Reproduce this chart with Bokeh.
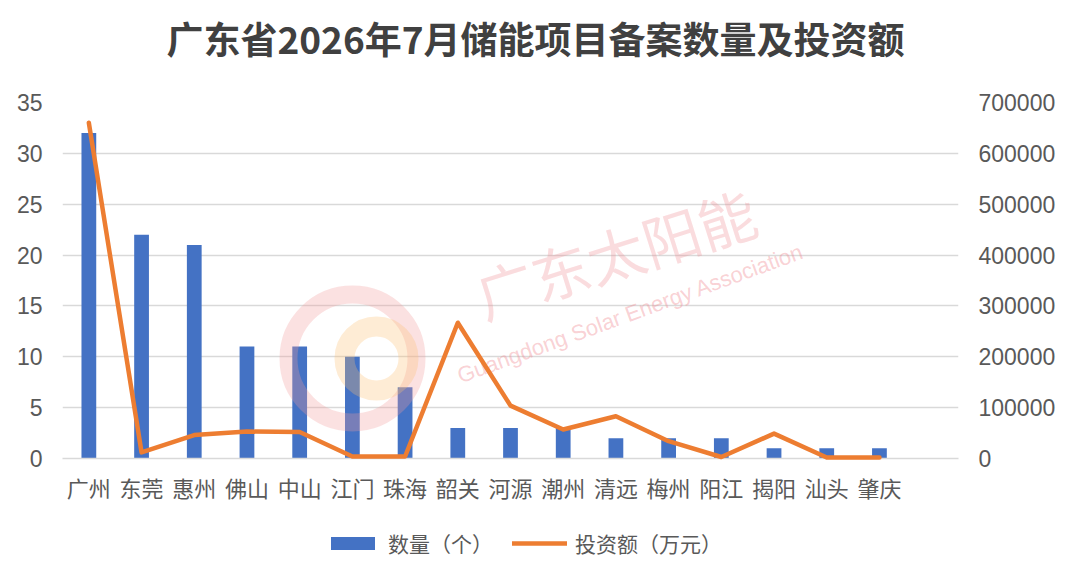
from bokeh.plotting import figure
from bokeh.layouts import column
from bokeh.models import (Range1d, LinearAxis, FixedTicker, Label, Legend, LegendItem,
                          BoxAnnotation, BasicTickFormatter)
from bokeh.embed import file_html
from bokeh.resources import INLINE

# ---- data ----
cities = ["广州", "东莞", "惠州", "佛山", "中山", "江门", "珠海", "韶关",
          "河源", "潮州", "清远", "梅州", "阳江", "揭阳", "汕头", "肇庆"]
counts = [32, 22, 21, 11, 11, 10, 7, 3, 3, 3, 2, 2, 2, 1, 1, 1]
invest = [660000, 12000, 46000, 53000, 52000, 4000, 4000, 267000,
          104000, 57000, 83000, 34000, 3000, 49000, 2000, 2000]
count_ticks = [0, 5, 10, 15, 20, 25, 30, 35]
invest_ticks = [0, 100000, 200000, 300000, 400000, 500000, 600000, 700000]
title_text = "广东省2026年7月储能项目备案数量及投资额"
legend_labels = ["数量（个）", "投资额（万元）"]

idx = list(range(len(cities)))

CJK = "Noto Sans CJK SC"
NUM = "Liberation Sans"
GRID = "#d9d9d9"
LABEL = "#595959"
BLUE = "#4472C4"
ORANGE = "#ED7D31"
W = 1062
NAN = float("nan")


def blank(h):
    f = figure(width=W, height=h, x_range=Range1d(0, 1), y_range=Range1d(0, 1),
               x_axis_type=None, y_axis_type=None, output_backend="svg",
               toolbar_location=None, min_border=0)
    f.outline_line_color = None
    f.grid.visible = False
    return f


# ---- title strip (frame is aligned with the chart frame: left edge at 62px) ----
ft = blank(70)
ft.add_layout(Label(x=473, y=33, x_units="screen", y_units="screen", text=title_text,
                    text_font=CJK, text_font_size="37px", text_font_style="bold",
                    text_color="#404040", text_align="center", text_baseline="middle"))

# ---- main chart ----
p = figure(width=W, height=440,
           x_range=Range1d(-0.5, len(cities) + 0.5),
           y_range=Range1d(count_ticks[0], count_ticks[-1]),
           output_backend="svg", toolbar_location=None,
           min_border_left=62, min_border_right=104,
           min_border_top=32, min_border_bottom=52)
p.outline_line_color = None
p.extra_y_ranges = {"inv": Range1d(invest_ticks[0], invest_ticks[-1])}

yax = p.yaxis[0]
yax.ticker = FixedTicker(ticks=count_ticks)
yax.formatter = BasicTickFormatter(use_scientific=False)
yax.axis_line_color = None
yax.major_tick_line_color = None
yax.minor_tick_line_color = None
yax.major_label_text_font = NUM
yax.major_label_text_font_size = "23px"
yax.major_label_text_color = LABEL
yax.major_label_standoff = 14

rax = LinearAxis(y_range_name="inv", ticker=FixedTicker(ticks=invest_ticks),
                 formatter=BasicTickFormatter(use_scientific=False))
rax.axis_line_color = None
rax.major_tick_line_color = None
rax.minor_tick_line_color = None
rax.major_label_text_font = NUM
rax.major_label_text_font_size = "23px"
rax.major_label_text_color = LABEL
rax.major_label_standoff = 14
p.add_layout(rax, "right")

xax = p.xaxis[0]
xax.ticker = FixedTicker(ticks=idx)
xax.major_label_overrides = {i: c for i, c in zip(idx, cities)}
xax.axis_line_color = GRID
xax.axis_line_width = 1.5
xax.major_tick_line_color = None
xax.minor_tick_line_color = None
xax.major_label_text_font = CJK
xax.major_label_text_font_size = "22px"
xax.major_label_text_color = LABEL
xax.major_label_standoff = 6

p.xgrid.grid_line_color = None
p.ygrid.ticker = FixedTicker(ticks=count_ticks)
p.ygrid.grid_line_color = GRID
p.ygrid.grid_line_width = 1.5

r_bar = p.vbar(x=idx, top=counts, width=0.28, fill_color=BLUE, line_color=None)

# watermark (faint)
p.add_layout(BoxAnnotation(left=226, right=354, bottom=36, top=164,
                           left_units="screen", right_units="screen",
                           bottom_units="screen", top_units="screen",
                           border_radius=64, fill_alpha=0, line_color="#f29a9a",
                           line_alpha=0.3, line_width=18))
p.add_layout(BoxAnnotation(left=282, right=346, bottom=68, top=132,
                           left_units="screen", right_units="screen",
                           bottom_units="screen", top_units="screen",
                           border_radius=32, fill_alpha=0, line_color="#fbbf74",
                           line_alpha=0.3, line_width=20))
p.add_layout(Label(x=553, y=206, x_units="screen", y_units="screen", text="广东太阳能",
                   text_font=CJK, text_font_size="58px",
                   text_color="#f08a92", text_alpha=0.3, angle=0.305,
                   text_align="center", text_baseline="middle"))
p.add_layout(Label(x=568, y=145, x_units="screen", y_units="screen",
                   text="Guangdong Solar Energy Association",
                   text_font=NUM, text_font_size="22px",
                   text_color="#f08a92", text_alpha=0.4, angle=0.35,
                   text_align="center", text_baseline="middle"))

r_line = p.line(x=idx, y=invest, y_range_name="inv", line_color=ORANGE,
                line_width=4.5, line_join="round", line_cap="round")
r_line.level = "overlay"

# ---- legend strip (legend-only renderers: no visible data) ----
fl = blank(67)
lb = fl.vbar(x=[NAN], top=[NAN], width=0.1, fill_color=BLUE, line_color=None)
ll = fl.line(x=[NAN], y=[NAN], line_color=ORANGE, line_width=4.5, line_cap="round")
legend = Legend(items=[LegendItem(label=legend_labels[0], renderers=[lb]),
                       LegendItem(label=legend_labels[1], renderers=[ll])],
                orientation="horizontal", location=(263, 19),
                glyph_width=55, glyph_height=16, label_standoff=8, spacing=19,
                label_text_font=CJK, label_text_font_size="21px",
                label_text_color=LABEL, border_line_color=None,
                background_fill_alpha=0, padding=0, margin=0)
fl.add_layout(legend)

layout = column(ft, p, fl, spacing=0)
open("out.html", "w").write(file_html(layout, INLINE))
